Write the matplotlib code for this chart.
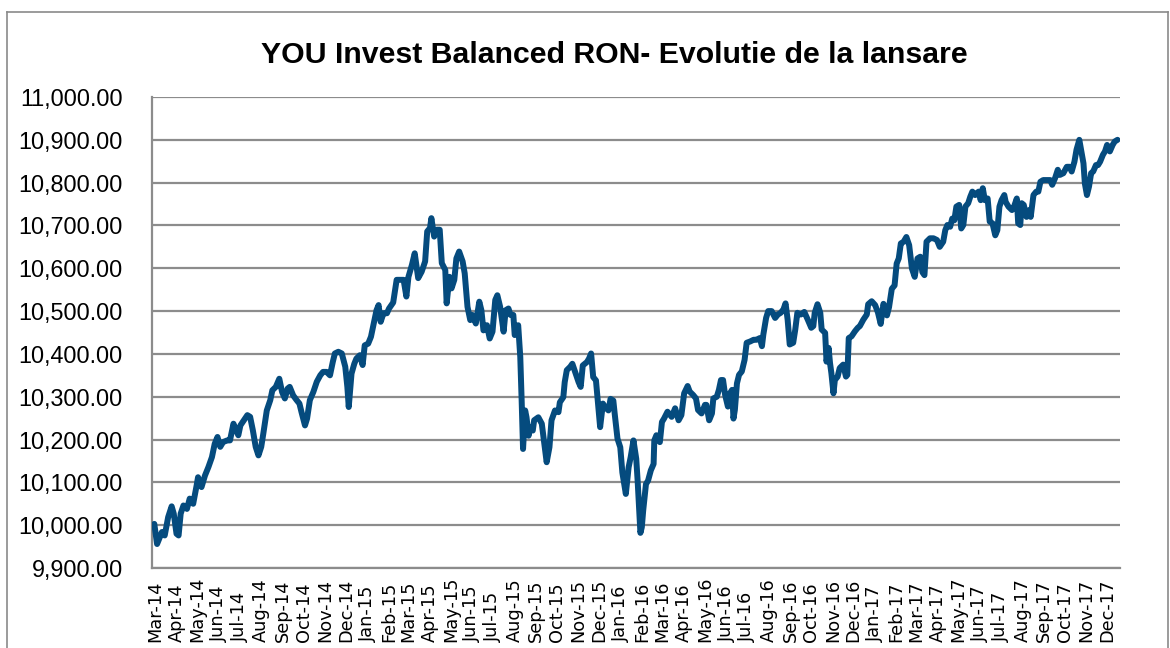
import matplotlib
matplotlib.use("Agg")
import matplotlib.pyplot as plt
import matplotlib.dates as mdates
from matplotlib.lines import Line2D
import pandas as pd

TITLE = "YOU Invest Balanced RON- Evolutie de la lansare"
START = "2014-03-01"

days = [-1, 3, 10, 14, 19, 24, 27, 31, 34, 37, 41, 46, 50, 55, 60, 62, 67, 72, 77, 82, 86, 90, 94, 98,
        104, 108, 113, 117, 120, 123, 128, 133, 137, 141, 145, 149, 153, 156, 161, 166, 169, 174, 179,
        183, 187, 191, 194, 199, 204, 208, 211, 216, 219, 223, 228, 233, 238, 242, 247, 252, 256, 259,
        264, 269, 274, 277, 279, 283, 287, 290, 295, 299, 302, 307, 311, 314, 319, 322, 325, 329, 334,
        337, 343,
        348, 353, 358, 362, 365, 370, 374, 379, 384, 389, 392, 396, 398, 402, 406, 410, 413, 418, 420,
        424, 427, 431, 434, 438, 443, 446, 450, 454, 457, 462, 467, 470, 473, 478, 482, 486, 490, 493,
        497, 502, 505, 509, 512, 516, 518, 523, 526, 528, 530, 533, 535, 538, 540, 544, 546, 552, 557,
        560, 564, 568, 571, 576, 581, 583, 588, 590, 593, 598, 601, 605, 610, 613, 616, 622, 625, 628,
        631, 635, 638, 641, 645, 648, 653, 656, 660, 662, 666, 670, 673, 678, 682, 685, 689, 693, 695,
        699,
        701, 703, 707, 710, 714, 718, 719, 722, 727, 730, 733, 738, 744, 749, 754, 758, 762, 767, 770,
        775, 779, 782, 787, 792, 794, 798, 802, 804, 809, 812, 815, 818, 821, 825, 828, 831, 833, 835,
        838, 841, 845, 849, 852, 857, 862, 866, 871, 874, 876, 880, 883, 888, 893, 897, 901, 905, 908,
        911, 914, 919, 922, 925, 930, 935, 940, 945, 948, 950, 954, 958, 960, 965, 967, 970, 972, 974,
        977, 979, 983, 986, 991, 995, 997, 999, 1003, 1008, 1012, 1015, 1020, 1025, 1027, 1032, 1037,
        1041, 1045, 1049, 1054, 1057, 1061, 1065, 1068, 1071, 1074, 1078, 1082, 1086, 1090, 1094, 1098,
        1102, 1105, 1108, 1111, 1116, 1121, 1126, 1130, 1135, 1138, 1141, 1145, 1148, 1151, 1154, 1158,
        1161, 1164, 1167, 1171, 1174, 1177, 1181, 1186, 1189, 1192, 1195, 1199, 1202, 1206, 1210, 1213,
        1216, 1219, 1223, 1225, 1229, 1234, 1237, 1241, 1243, 1246, 1248, 1251, 1255, 1259, 1261, 1265,
        1269, 1272, 1275, 1279, 1284, 1289, 1292, 1296, 1300, 1303, 1308, 1313, 1317, 1320, 1324, 1327,
        1331, 1334, 1337, 1339, 1342, 1345, 1348, 1351, 1355, 1358, 1361, 1365, 1368, 1371, 1375, 1379,
        1382, 1386]

values = [10003, 9956, 9984, 9976, 10019, 10044, 10027, 9980, 9976, 10027, 10046, 10038, 10062, 10050,
          10093, 10112, 10089, 10116, 10136, 10159, 10190, 10206, 10183, 10194, 10198, 10198, 10237,
          10221, 10210, 10233, 10245, 10257, 10253, 10221, 10183, 10163, 10183, 10214, 10268, 10292,
          10315, 10323, 10342, 10311, 10296, 10319, 10323, 10303, 10292, 10284, 10264, 10233, 10249,
          10292, 10311, 10335, 10350, 10358, 10358, 10350, 10381, 10401, 10405, 10401, 10370, 10323,
          10276, 10354, 10377, 10389, 10397, 10374, 10420, 10424, 10440, 10463, 10502, 10514, 10475,
          10495, 10495, 10506, 10520,
          10573, 10573, 10573, 10534, 10580, 10608, 10635, 10577, 10592, 10616, 10686, 10694, 10717,
          10674, 10690, 10690, 10612, 10596, 10518, 10580, 10553, 10573, 10623, 10639, 10616, 10588,
          10510, 10479, 10491, 10471, 10522, 10502, 10455, 10467, 10436, 10452, 10526, 10537, 10510,
          10452, 10502, 10506, 10491, 10491, 10444, 10467, 10393, 10291, 10178, 10268, 10252, 10209,
          10229, 10221, 10245, 10252, 10237, 10198, 10147, 10182, 10245, 10268, 10264, 10287, 10299,
          10334, 10362, 10370, 10377, 10358, 10334, 10323, 10373, 10381, 10389, 10401, 10346, 10338,
          10284, 10229, 10284, 10276, 10268, 10295, 10291, 10260, 10202, 10182, 10123, 10073, 10135,
          10159, 10198, 10155, 10104, 9982,
          9995, 10034, 10096, 10104, 10128, 10143, 10198, 10210, 10194, 10241, 10249, 10265, 10253,
          10273, 10245, 10257, 10308, 10325, 10312, 10304, 10296, 10269, 10261, 10281, 10281, 10245,
          10261, 10296, 10300, 10316, 10339, 10339, 10304, 10277, 10308, 10316, 10249, 10269, 10331,
          10351, 10359, 10386, 10426, 10429, 10433, 10433, 10437, 10418, 10445, 10484, 10500, 10500,
          10484, 10492, 10496, 10504, 10518, 10480, 10422, 10426, 10457, 10496, 10492, 10498, 10480,
          10461, 10465, 10496, 10516, 10496, 10457, 10449, 10382, 10414, 10379, 10355, 10308, 10339,
          10347, 10367, 10375, 10347, 10351, 10437, 10441, 10453, 10461, 10465, 10480, 10492, 10516,
          10523, 10514,
          10497, 10470, 10517, 10490, 10509, 10552, 10560, 10611, 10623, 10658, 10662, 10673, 10654,
          10599, 10580, 10623, 10627, 10591, 10584, 10662, 10670, 10670, 10666, 10650, 10662, 10689,
          10701, 10697, 10716, 10712, 10744, 10748, 10693, 10701, 10744, 10752, 10767, 10779, 10771,
          10779, 10759, 10787, 10759, 10763, 10709, 10705, 10677, 10689, 10744, 10759, 10771, 10755,
          10744, 10736, 10744, 10763, 10705, 10701, 10752, 10748, 10720, 10736, 10720, 10771, 10779,
          10779, 10802, 10806, 10806, 10806, 10795, 10810, 10830, 10818, 10822, 10837, 10837, 10826,
          10849, 10877, 10900, 10873, 10845, 10798, 10771, 10791, 10822, 10826, 10841, 10841, 10849,
          10865, 10873, 10888, 10873, 10888, 10896, 10900]

y_ticks = [9900, 10000, 10100, 10200, 10300, 10400, 10500, 10600, 10700, 10800, 10900, 11000]

start = pd.Timestamp(START)
dates = start + pd.to_timedelta(days, unit="D")

W, H = 1170, 648
fig = plt.figure(figsize=(W / 100, H / 100), dpi=100)
ax = fig.add_axes([152 / W, 1 - 568 / H, (1120 - 152) / W, (568 - 97) / H])

grid_c = "#8c8c8c"
for yv in y_ticks:
    ax.axhline(yv, color=grid_c, lw=1.6, zorder=1)

ax.plot(dates, values, color="#054b7e", lw=4.3, solid_joinstyle="round",
        solid_capstyle="round", zorder=3)

ax.set_ylim(9900, 11000)
ax.set_xlim(start - pd.Timedelta(days=4.3), start + pd.Timedelta(days=1389.6))
ax.set_yticks(y_ticks)
ax.set_yticklabels([f"{v:,.2f}" for v in y_ticks], fontfamily="Liberation Sans", fontsize=16.8)

ax.xaxis.set_major_locator(mdates.MonthLocator(bymonthday=1))
ax.xaxis.set_major_formatter(mdates.DateFormatter("%b-%y"))
for lbl in ax.get_xticklabels():
    lbl.set_rotation(90)
    lbl.set_va("bottom")
    lbl.set_ha("center")
    lbl.set_fontsize(12.8)
    lbl.set_fontfamily("DejaVu Sans")

ax.tick_params(axis="x", length=0, pad=53)
ax.tick_params(axis="y", length=0, pad=21)

for s in ["top", "right"]:
    ax.spines[s].set_visible(False)
for s in ["left", "bottom"]:
    ax.spines[s].set_color(grid_c)
    ax.spines[s].set_linewidth(1.6)

fig.text(614 / W, 1 - 55 / H, TITLE, ha="center", va="center", fontsize=21.8,
         fontweight="bold", fontfamily="Liberation Sans")

border_c = "#8a8a8a"
x0, x1 = 7 / W, 1168 / W
ytop = 1 - 12 / H
fig.add_artist(Line2D([x0, x0], [-0.01, ytop], transform=fig.transFigure, color=border_c, lw=1.2))
fig.add_artist(Line2D([x0, x1], [ytop, ytop], transform=fig.transFigure, color=border_c, lw=1.2))
fig.add_artist(Line2D([x1, x1], [-0.01, ytop], transform=fig.transFigure, color=border_c, lw=1.2))

fig.savefig("out.png", dpi=100)
